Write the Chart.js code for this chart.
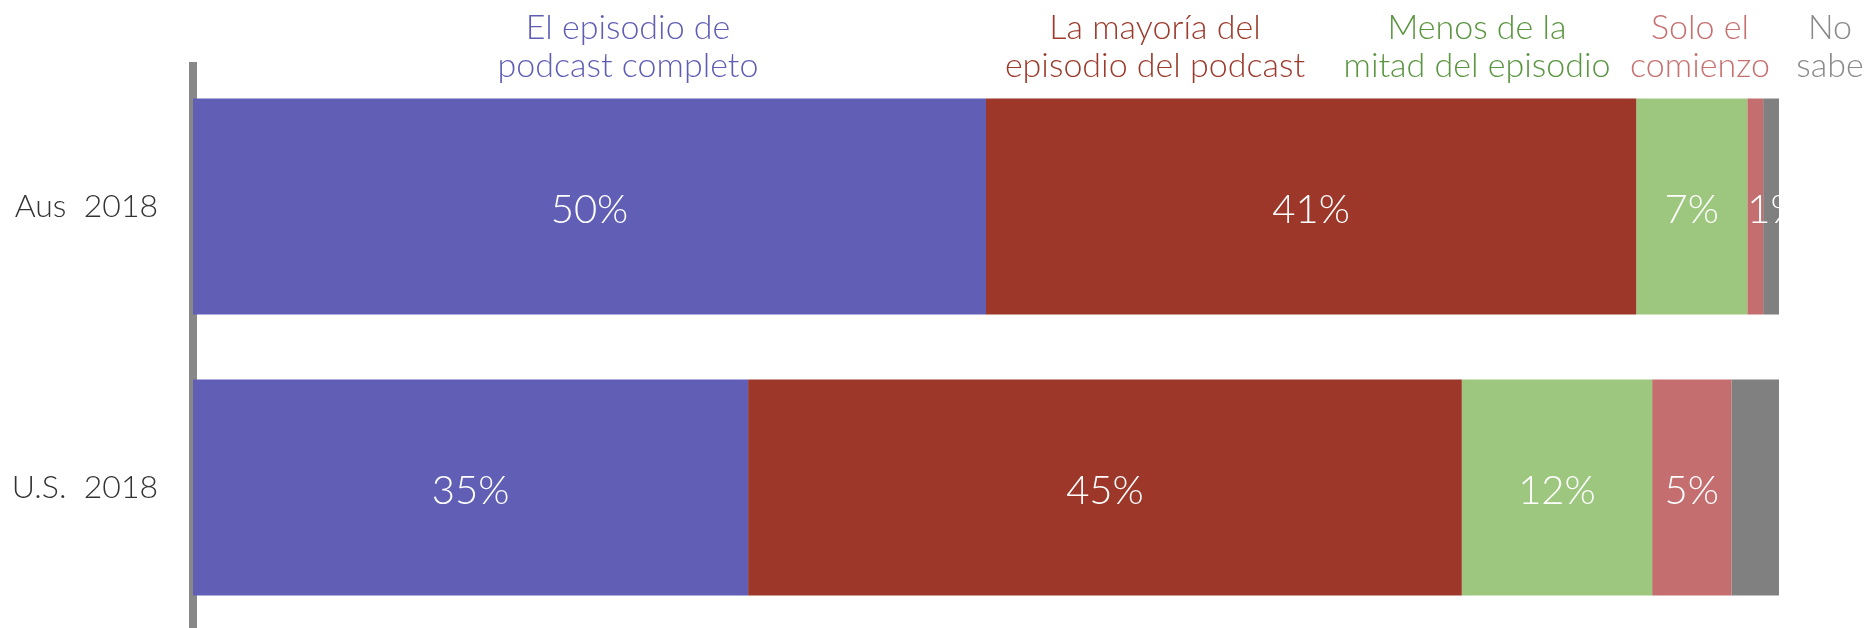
<!DOCTYPE html>
<html>
<head>
<meta charset="utf-8">
<style>
  html, body { margin: 0; padding: 0; background: #ffffff; overflow: hidden; }
  #wrap { width: 1866px; height: 628px; position: relative; }
</style>
<script src="https://cdn.jsdelivr.net/npm/chart.js@4/dist/chart.umd.min.js"></script>
</head>
<body>
<div id="wrap"><canvas id="chart"></canvas></div>
<script>
// Rows of the stacked bar chart
const categories = ['Aus  2018', 'U.S.  2018'];

// Share of listeners (%) by how much of the episode they listen to
const seriesNames = [
  ['El episodio de', 'podcast completo'],
  ['La mayoría del', 'episodio del podcast'],
  ['Menos de la', 'mitad del episodio'],
  ['Solo el', 'comienzo'],
  ['No', 'sabe']
];
const completo = [50, 35];
const mayoria = [41, 45];
const menosMitad = [7, 12];
const soloComienzo = [1, 5];
const noSabe = [1, 3];

// Which series print their value inside the bar
const showValue = [true, true, true, true, false];

// Styling
const barColors = ['#615fb5', '#9c3729', '#9dc77e', '#c46e6f', '#808080'];
const headColors = ['#5f5eb4', '#9c3a2c', '#5a9540', '#c77070', '#8a8a8a'];
const headCenters = [628, 1155, 1477, 1700, 1830];
const FONT = 'Lato, "Liberation Sans", sans-serif';

const values = [completo, mayoria, menosMitad, soloComienzo, noSabe];

const datasets = values.map((v, i) => ({
  label: seriesNames[i].join(' '),
  data: v,
  backgroundColor: barColors[i],
  borderWidth: 0,
  barPercentage: 0.769,
  categoryPercentage: 1.0,
  stack: 's'
}));

// Column headings above the bars
const headingPlugin = {
  id: 'headings',
  afterDraw(chart) {
    const ctx = chart.ctx;
    ctx.save();
    ctx.font = '300 34px ' + FONT;
    ctx.textAlign = 'center';
    ctx.textBaseline = 'alphabetic';
    seriesNames.forEach((lines, i) => {
      ctx.fillStyle = headColors[i];
      ctx.fillText(lines[0], headCenters[i], 39);
      ctx.fillText(lines[1], headCenters[i], 77);
    });
    ctx.restore();
  }
};

// Percentage labels inside the segments
const valuePlugin = {
  id: 'values',
  afterDatasetsDraw(chart) {
    const ctx = chart.ctx;
    ctx.save();
    ctx.font = '300 40px ' + FONT;
    ctx.fillStyle = '#ffffff';
    ctx.textBaseline = 'middle';
    chart.data.datasets.forEach((ds, i) => {
      if (!showValue[i]) return;
      const meta = chart.getDatasetMeta(i);
      meta.data.forEach((bar, j) => {
        const txt = ds.data[j] + '%';
        const left = Math.min(bar.base, bar.x);
        const w = Math.abs(bar.x - bar.base);
        const tw = ctx.measureText(txt).width;
        if (tw <= w) {
          ctx.textAlign = 'center';
          ctx.fillText(txt, left + w / 2, bar.y + 4);
        } else {
          ctx.textAlign = 'left';
          ctx.fillText(txt, left, bar.y + 4);
        }
      });
    });
    ctx.restore();
  }
};

new Chart(document.getElementById('chart'), {
  type: 'bar',
  data: { labels: categories, datasets },
  options: {
    indexAxis: 'y',
    responsive: true,
    maintainAspectRatio: false,
    animation: false,
    events: [],
    layout: { padding: { top: 66, right: 87, bottom: 0, left: 0 } },
    plugins: {
      legend: { display: false },
      tooltip: { enabled: false }
    },
    scales: {
      x: {
        stacked: true,
        min: 0,
        max: 100,
        display: false
      },
      y: {
        stacked: true,
        afterFit(scale) {
          // fixed axis width; no extra vertical room for the tick labels
          scale.width = 193;
          scale.paddingTop = 0;
          scale.paddingBottom = 0;
        },
        grid: { display: false, drawTicks: false },
        border: { display: true, color: '#888888', width: 8 },
        ticks: {
          color: '#333333',
          padding: 35,
          font: { family: FONT, size: 32, weight: '300' }
        }
      }
    }
  },
  plugins: [headingPlugin, valuePlugin]
});
</script>
</body>
</html>
